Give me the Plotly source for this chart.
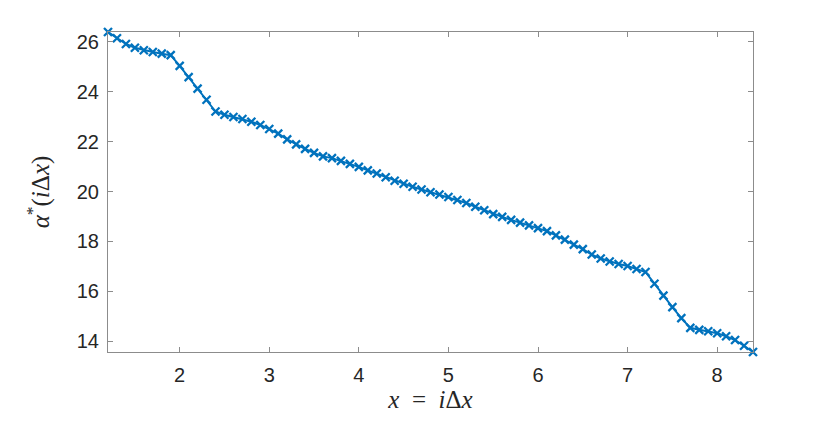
import plotly.graph_objects as go

# x = i*dx, dx = 0.1
x_vals = [round(1.2 + 0.1 * i, 1) for i in range(73)]
alpha_star = [
    26.40, 26.15, 25.92, 25.77, 25.67, 25.60, 25.53, 25.47, 25.04, 24.59,
    24.13, 23.68, 23.21, 23.08, 22.99, 22.91, 22.80, 22.67, 22.51, 22.32,
    22.09, 21.89, 21.71, 21.55, 21.41, 21.34, 21.23, 21.11, 20.99, 20.85,
    20.72, 20.57, 20.43, 20.31, 20.19, 20.08, 19.97, 19.88, 19.78, 19.66,
    19.54, 19.39, 19.25, 19.09, 18.98, 18.86, 18.75, 18.64, 18.53, 18.41,
    18.24, 18.07, 17.87, 17.69, 17.47, 17.31, 17.19, 17.09, 17.01, 16.89,
    16.77, 16.30, 15.82, 15.36, 14.92, 14.53, 14.45, 14.39, 14.31, 14.19,
    14.04, 13.81, 13.56,
]
x_ticks = [2, 3, 4, 5, 6, 7, 8]
y_ticks = [14, 16, 18, 20, 22, 24, 26]

blue = "#0072BD"
fig = go.Figure()
fig.add_trace(go.Scatter(
    x=x_vals, y=alpha_star, mode="lines+markers",
    line=dict(color=blue, width=2),
    marker=dict(symbol="x-thin", size=8, color=blue, line=dict(color=blue, width=2.3)),
    cliponaxis=False, showlegend=False,
))

axis_style = dict(
    showline=True, linecolor="#8c8c8c", linewidth=1, mirror="allticks",
    ticks="inside", ticklen=5, tickcolor="#8c8c8c", showgrid=False, zeroline=False,
    automargin=False,
    tickfont=dict(family="Liberation Sans, Arial", size=20, color="#262626"),
)
label_font = dict(family="Liberation Serif", size=25, color="#262626")
fig.update_xaxes(range=[1.2, 8.4], tickvals=x_ticks, ticklabelstandoff=5,
                 title=dict(text="<i>x</i>\u2002=\u2002<i>i</i>Δ<i>x</i>", standoff=3, font=label_font),
                 **axis_style)
fig.update_yaxes(range=[13.56, 26.4], tickvals=y_ticks, ticklabelstandoff=4,
                 title=dict(text="<i>α</i><sup>*</sup>(<i>i</i>Δ<i>x</i>)", standoff=20, font=label_font),
                 **axis_style)
# page body has an 8px margin, so the figure is 8px smaller than the window
fig.update_layout(
    width=822, height=415,
    margin=dict(l=100, r=77, t=24, b=71),
    plot_bgcolor="white", paper_bgcolor="white",
)
fig.write_html("out.html")
